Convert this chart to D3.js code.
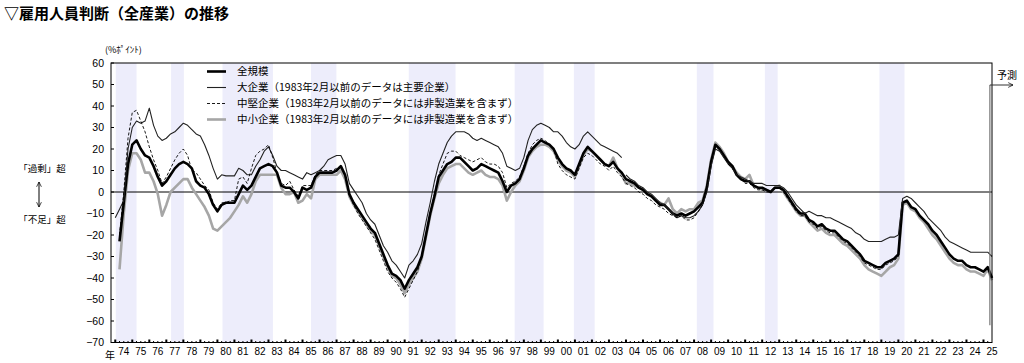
<!DOCTYPE html>
<html>
<head>
<meta charset="utf-8">
<script src="https://cdn.jsdelivr.net/npm/d3@7"></script>
<style>
  body { margin: 0; background: #fff; }
  svg { display: block; font-family: "Noto Sans CJK JP", sans-serif; }
</style>
</head>
<body>
<svg id="chart" width="1024" height="363"></svg>
<script>
// quarterly survey values, first point = 1974 Q1, plotted at quarter end
var seriesStart = 1974.25;

var total = [
  -23, -5, 13, 22, 24, 20, 17, 16, 12, 7,
  3, 5, 8, 11, 13, 14, 13, 11, 5, 3,
  2, -1, -6, -9, -6, -5, -5, -5, -1, 3,
  1, 3, 7, 11, 12, 13, 12, 9, 3, 2,
  2, 0, -3, 2, 1, 2, 7, 9, 9, 9,
  9, 10, 12, 8, -1, -5, -8, -11, -14, -17,
  -19, -24, -29, -34, -38, -39, -41, -45, -41, -38,
  -35, -30, -20, -10, -2, 7, 10, 13, 14, 16,
  16, 14, 12, 10, 11, 13, 12, 11, 10, 9,
  5, 0, 3, 4, 6, 11, 17, 20, 22, 24,
  23, 22, 20, 16, 13, 11, 10, 8, 13, 18,
  21, 19, 17, 15, 13, 12, 14, 11, 9, 6,
  5, 4, 2, 1, -1, -2, -4, -6, -6, -8,
  -10, -11, -10, -11, -10, -9, -7, -5, 2, 14,
  22, 20, 17, 14, 12, 8, 6, 5, 5, 3,
  2, 2, 1, 0, 2, 2, 1, -2, -5, -8,
  -10, -10, -13, -14, -16, -15, -17, -18, -18, -20,
  -22, -23, -25, -27, -29, -32, -33, -34, -35, -35,
  -33, -32, -31, -29, -5, -4, -7, -8, -11, -13,
  -15, -18, -20, -23, -26, -29, -31, -32, -32, -34,
  -35, -35, -36, -37, -35, -40
];

// 大企業 (old basis) starts one quarter earlier and stops in 2003
var largeOldStart = 1974.0;
var largeOld = [
  -12,
  -8, -4, 20, 30, 33, 32, 33, 39, 31, 26,
  24, 25, 27, 28, 30, 32, 31, 29, 27, 26,
  22, 17, 11, 6, 8, 7.5, 7.5, 7.5, 11, 10,
  8, 8, 12, 15, 19, 21, 17, 12, 10, 10,
  9, 8, 7, 6, 9, 8, 9, 10, 12, 15,
  16, 17, 17, 13, 4, 1, -2, -5, -10, -13,
  -15, -20, -25, -28, -32, -34, -37, -40, -34, -32,
  -29, -24, -14, -5, 5, 13, 18, 23, 26, 28,
  28, 28, 27, 25, 24, 25, 24, 23, 22, 21,
  18, 12, 11, 10, 11, 16, 24, 29, 31, 32,
  31, 30, 28, 28, 26, 23, 21, 20, 22, 26,
  28, 26, 24, 22, 21, 20, 19, 18, 16
];

// 大企業 (new basis) from 2003 Q4
var largeNewStart = 2004.0;
var largeNew = [
  8, 6, 5, 3, 2, 0, -1, -3, -5, -6,
  -8, -10, -12, -11, -12, -12, -11, -9, -6, 0,
  12, 20, 19, 16, 13, 11, 8, 7, 6, 5,
  4, 4, 4, 3, 3, 3, 3, 2, 0, -3,
  -6, -8, -10, -9, -10, -11, -11, -12, -12, -13,
  -14, -15, -16, -17, -19, -20, -22, -23, -23, -23,
  -23, -22, -21, -21, -20, -3, -2, -3, -5, -7,
  -9, -12, -14, -16, -18, -21, -23, -24, -25, -26,
  -27, -28, -28, -28, -28, -28, -30
];

var mid = [
  -20, 0, 25, 37, 38, 33, 28, 21, 15, 10,
  4, 7, 11, 15, 18, 20, 17, 10, 9, 6,
  3, 1, -5, -8, -5, -5, -4, -4, 6, 7,
  4, 11, 17, 19, 20, 22, 16, 9, 4, 3,
  5, 1, -2, 3, 3, 3, 8, 10, 10, 10,
  10, 11, 12, 8, -1, -6, -10, -13, -16, -19,
  -22, -27, -32, -37, -40, -42, -45, -49, -45, -41,
  -37, -30, -20, -10, -1, 8, 13, 18, 19, 19,
  17, 16, 15, 14, 15, 16, 14, 13, 13, 12,
  9, 2, 4, 5, 7, 12, 18, 22, 24, 25,
  24, 22, 20, 13, 10, 8, 7, 6, 11, 16,
  18, 17, 15, 13, 12, 10, 12, 9, 7, 4,
  3, 2, 0, -1, -3, -4, -6, -7, -8, -10,
  -11, -12, -11, -13, -13, -12, -9, -6, 1, 14,
  21, 20, 17, 13, 11, 8, 6, 4, 4, 2,
  1, 1, 0, 0, 2, 2, 0, -3, -6, -9,
  -11, -11, -14, -15, -17, -16, -18, -19, -19, -21,
  -23, -24, -26, -28, -30, -33, -34, -35, -36, -36,
  -34, -33, -32, -30, -5, -4, -7, -8, -11, -13,
  -15, -18, -20, -23, -26, -29, -31, -32, -32, -34,
  -35, -35, -36, -37, -35, -40
];

var small = [
  -36, -10, 10, 18, 18, 15, 9, 9, 5, -1,
  -11, -6, 0, 2, 4, 6, 6, 2, -1, -4,
  -7, -11, -17, -18, -16, -14, -12, -9, -6, -2,
  -5, -1, 5, 8, 8, 8, 8, 8, 2, -1,
  -1, 0, -5, -4, -1, -3, 6, 8, 8, 8,
  8, 8, 10, 6, -2, -6, -9, -12, -15, -18,
  -20, -25, -30, -35, -39, -40, -43, -47, -43, -40,
  -37, -31, -21, -11, -3, 4, 8, 11, 12, 13,
  13, 11, 9, 8, 9, 10, 8, 7, 7, 6,
  3, -4, 0, 3, 5, 10, 16, 19, 21, 22,
  22, 21, 19, 15, 12, 10, 9, 7, 12, 17,
  20, 19, 17, 15, 13, 12, 16, 11, 8, 4,
  4, 3, 2, 1, -1, -2, -4, -5, -6, -3,
  -8, -10, -8, -9, -8, -8, -5, -4, 3, 15,
  23, 21, 18, 14, 12, 9, 7, 6, 8, 3,
  2, 1, 1, 0, 2, 3, 0, -3, -6, -9,
  -11, -11, -14, -16, -18, -17, -19, -20, -20, -22,
  -24, -25, -27, -29, -31, -34, -36, -37, -38, -39,
  -37, -35, -34, -31, -6, -5, -8, -9, -12, -14,
  -17, -20, -22, -25, -28, -31, -33, -34, -34, -36,
  -37, -37, -38, -39, -36, -41
];

// shaded recession periods (years)
var recessions = [
  [1974.03, 1975.25], [1977.28, 1978.03], [1980.30, 1983.26],
  [1985.50, 1986.99], [1991.24, 1993.99], [1997.46, 1999.16],
  [2000.94, 2002.16], [2008.16, 2009.14], [2012.16, 2012.91],
  [2018.89, 2020.36]
];

var yTicks = d3.range(-70, 61, 10);
var years = d3.range(1974, 2026);

var legendLabels = [
  '全規模',
  '大企業（1983年2月以前のデータは主要企業）',
  '中堅企業（1983年2月以前のデータには非製造業を含まず）',
  '中小企業（1983年2月以前のデータには非製造業を含まず）'
];

// ================== //
// ***** LAYOUT ***** //
// ================== //

var plotLeft = 111, plotRight = 992, plotTop = 63, plotBottom = 342.5;
var svg = d3.select('#chart');

var x = d3.scaleLinear()
  .domain([1973.75, 2025.5])
  .range([plotLeft, plotRight]);

var y = d3.scaleLinear()
  .domain([-70, 60])
  .range([plotBottom, plotTop]);

// title
svg.append('text')
  .attr('x', 4)
  .attr('y', 19)
  .style('font-size', '15px')
  .style('font-weight', 'bold')
  .text('▽雇用人員判断（全産業）の推移');

svg.append('text')
  .attr('x', 105)
  .attr('y', 53)
  .style('font-size', '9px')
  .text('(%ﾎﾟｲﾝﾄ)');

// recession shading
svg.append('g')
  .selectAll('rect')
  .data(recessions)
  .enter()
  .append('rect')
  .attr('x', function (d) { return x(d[0]); })
  .attr('width', function (d) { return x(d[1]) - x(d[0]); })
  .attr('y', plotTop)
  .attr('height', plotBottom - plotTop)
  .attr('fill', '#ededfb');

// zero line
svg.append('line')
  .attr('x1', plotLeft).attr('x2', plotRight)
  .attr('y1', y(0)).attr('y2', y(0))
  .attr('stroke', '#000')
  .attr('stroke-width', 1);

// ================== //
// ***** Y-AXIS ***** //
// ================== //

var yAxis = svg.append('g');
yAxis.selectAll('line')
  .data(yTicks)
  .enter()
  .append('line')
  .attr('x1', plotLeft).attr('x2', plotLeft + 3)
  .attr('y1', function (d) { return y(d); })
  .attr('y2', function (d) { return y(d); })
  .attr('stroke', '#000');

yAxis.selectAll('text')
  .data(yTicks)
  .enter()
  .append('text')
  .attr('x', 104)
  .attr('y', function (d) { return y(d); })
  .attr('dy', '0.35em')
  .style('text-anchor', 'end')
  .style('font-family', '"Liberation Sans", Arial, sans-serif')
  .style('font-size', '10.5px')
  .text(function (d) { return d < 0 ? '−' + Math.abs(d) : d; });

// ================== //
// ***** X-AXIS ***** //
// ================== //

var xAxis = svg.append('g');
xAxis.selectAll('rect.major')
  .data(years)
  .enter()
  .append('rect')
  .attr('class', 'major')
  .attr('x', function (d) { return x(d) - 1; })
  .attr('y', plotBottom - 3)
  .attr('width', 2)
  .attr('height', 3)
  .attr('fill', '#000');

var quarters = [];
years.forEach(function (yr) {
  [0.25, 0.5, 0.75].forEach(function (q) {
    if (yr + q < 2025.5) quarters.push(yr + q);
  });
});
xAxis.selectAll('rect.minor')
  .data(quarters)
  .enter()
  .append('rect')
  .attr('class', 'minor')
  .attr('x', function (d) { return x(d) - 0.5; })
  .attr('y', plotBottom - 1.5)
  .attr('width', 1)
  .attr('height', 1.5)
  .attr('fill', '#000');

xAxis.selectAll('text')
  .data(years)
  .enter()
  .append('text')
  .attr('x', function (d) { return x(Math.min(d + 0.5, 2025.5)); })
  .attr('y', 355)
  .style('text-anchor', 'middle')
  .style('font-family', '"Liberation Sans", Arial, sans-serif')
  .style('font-size', '10px')
  .text(function (d) { return String(d % 100).padStart(2, '0'); });

svg.append('text')
  .attr('x', 110)
  .attr('y', 359)
  .style('text-anchor', 'middle')
  .style('font-size', '10px')
  .text('年');

// ================ //
// ***** LINES ***** //
// ================ //

function lineFrom(start) {
  return d3.line()
    .x(function (d, i) { return x(start + i * 0.25); })
    .y(function (d) { return y(d); });
}

var styles = [
  { stroke: '#000', width: 2.6, dash: null },
  { stroke: '#222', width: 1.1, dash: null },
  { stroke: '#000', width: 0.9, dash: '3,2' },
  { stroke: '#a6a6a6', width: 2.6, dash: null }
];

var lines = svg.append('g').attr('fill', 'none').attr('stroke-linejoin', 'round');

lines.append('path').datum(small)
  .attr('d', lineFrom(seriesStart))
  .attr('stroke', styles[3].stroke).attr('stroke-width', styles[3].width);

lines.append('path').datum(total)
  .attr('d', lineFrom(seriesStart))
  .attr('stroke', styles[0].stroke).attr('stroke-width', styles[0].width);

lines.append('path').datum(largeOld)
  .attr('d', lineFrom(largeOldStart))
  .attr('stroke', styles[1].stroke).attr('stroke-width', styles[1].width);

lines.append('path').datum(largeNew)
  .attr('d', lineFrom(largeNewStart))
  .attr('stroke', styles[1].stroke).attr('stroke-width', styles[1].width);

lines.append('path').datum(mid)
  .attr('d', lineFrom(seriesStart))
  .attr('stroke', styles[2].stroke).attr('stroke-width', styles[2].width)
  .attr('stroke-dasharray', styles[2].dash);

// plot frame
svg.append('rect')
  .attr('x', plotLeft).attr('y', plotTop)
  .attr('width', plotRight - plotLeft).attr('height', plotBottom - plotTop)
  .attr('fill', 'none')
  .attr('stroke', '#000')
  .attr('stroke-width', 1);

// ================= //
// ***** LEGEND ***** //
// ================= //

var legend = svg.append('g');
legendLabels.forEach(function (label, i) {
  var ly = 71.5 + i * 16;
  legend.append('line')
    .attr('x1', 207).attr('x2', 226)
    .attr('y1', ly).attr('y2', ly)
    .attr('stroke', styles[i].stroke)
    .attr('stroke-width', styles[i].width)
    .attr('stroke-dasharray', styles[i].dash);
  legend.append('text')
    .attr('x', 237)
    .attr('y', ly)
    .attr('dy', '0.35em')
    .style('font-size', '10.5px')
    .text(label);
});

// ======================= //
// ***** ANNOTATIONS ***** //
// ======================= //

svg.append('defs').append('marker')
  .attr('id', 'arrow')
  .attr('viewBox', '0 0 10 10')
  .attr('refX', 9).attr('refY', 5)
  .attr('markerWidth', 6).attr('markerHeight', 6)
  .attr('orient', 'auto-start-reverse')
  .append('path')
  .attr('d', 'M1,1 L9,5 L1,9')
  .attr('fill', 'none')
  .attr('stroke', '#000')
  .attr('stroke-width', 1.2);

svg.append('text')
  .attr('x', 42).attr('y', 172)
  .style('text-anchor', 'middle')
  .style('font-size', '9.5px')
  .text('「過剰」超');

svg.append('text')
  .attr('x', 42).attr('y', 223)
  .style('text-anchor', 'middle')
  .style('font-size', '9.5px')
  .text('「不足」超');

svg.append('line')
  .attr('x1', 39).attr('x2', 39)
  .attr('y1', 182).attr('y2', 207)
  .attr('stroke', '#000')
  .attr('stroke-width', 1)
  .attr('marker-start', 'url(#arrow)')
  .attr('marker-end', 'url(#arrow)');

// forecast marker
var fx = x(2025.375);
svg.append('line')
  .attr('x1', fx).attr('x2', fx)
  .attr('y1', 85).attr('y2', y(-62))
  .attr('stroke', '#777')
  .attr('stroke-width', 1.2);

svg.append('line')
  .attr('x1', fx).attr('x2', 1013)
  .attr('y1', 85).attr('y2', 85)
  .attr('stroke', '#333')
  .attr('stroke-width', 1)
  .attr('marker-end', 'url(#arrow)');

svg.append('text')
  .attr('x', 997).attr('y', 79)
  .style('font-size', '10px')
  .text('予測');
</script>
</body>
</html>
